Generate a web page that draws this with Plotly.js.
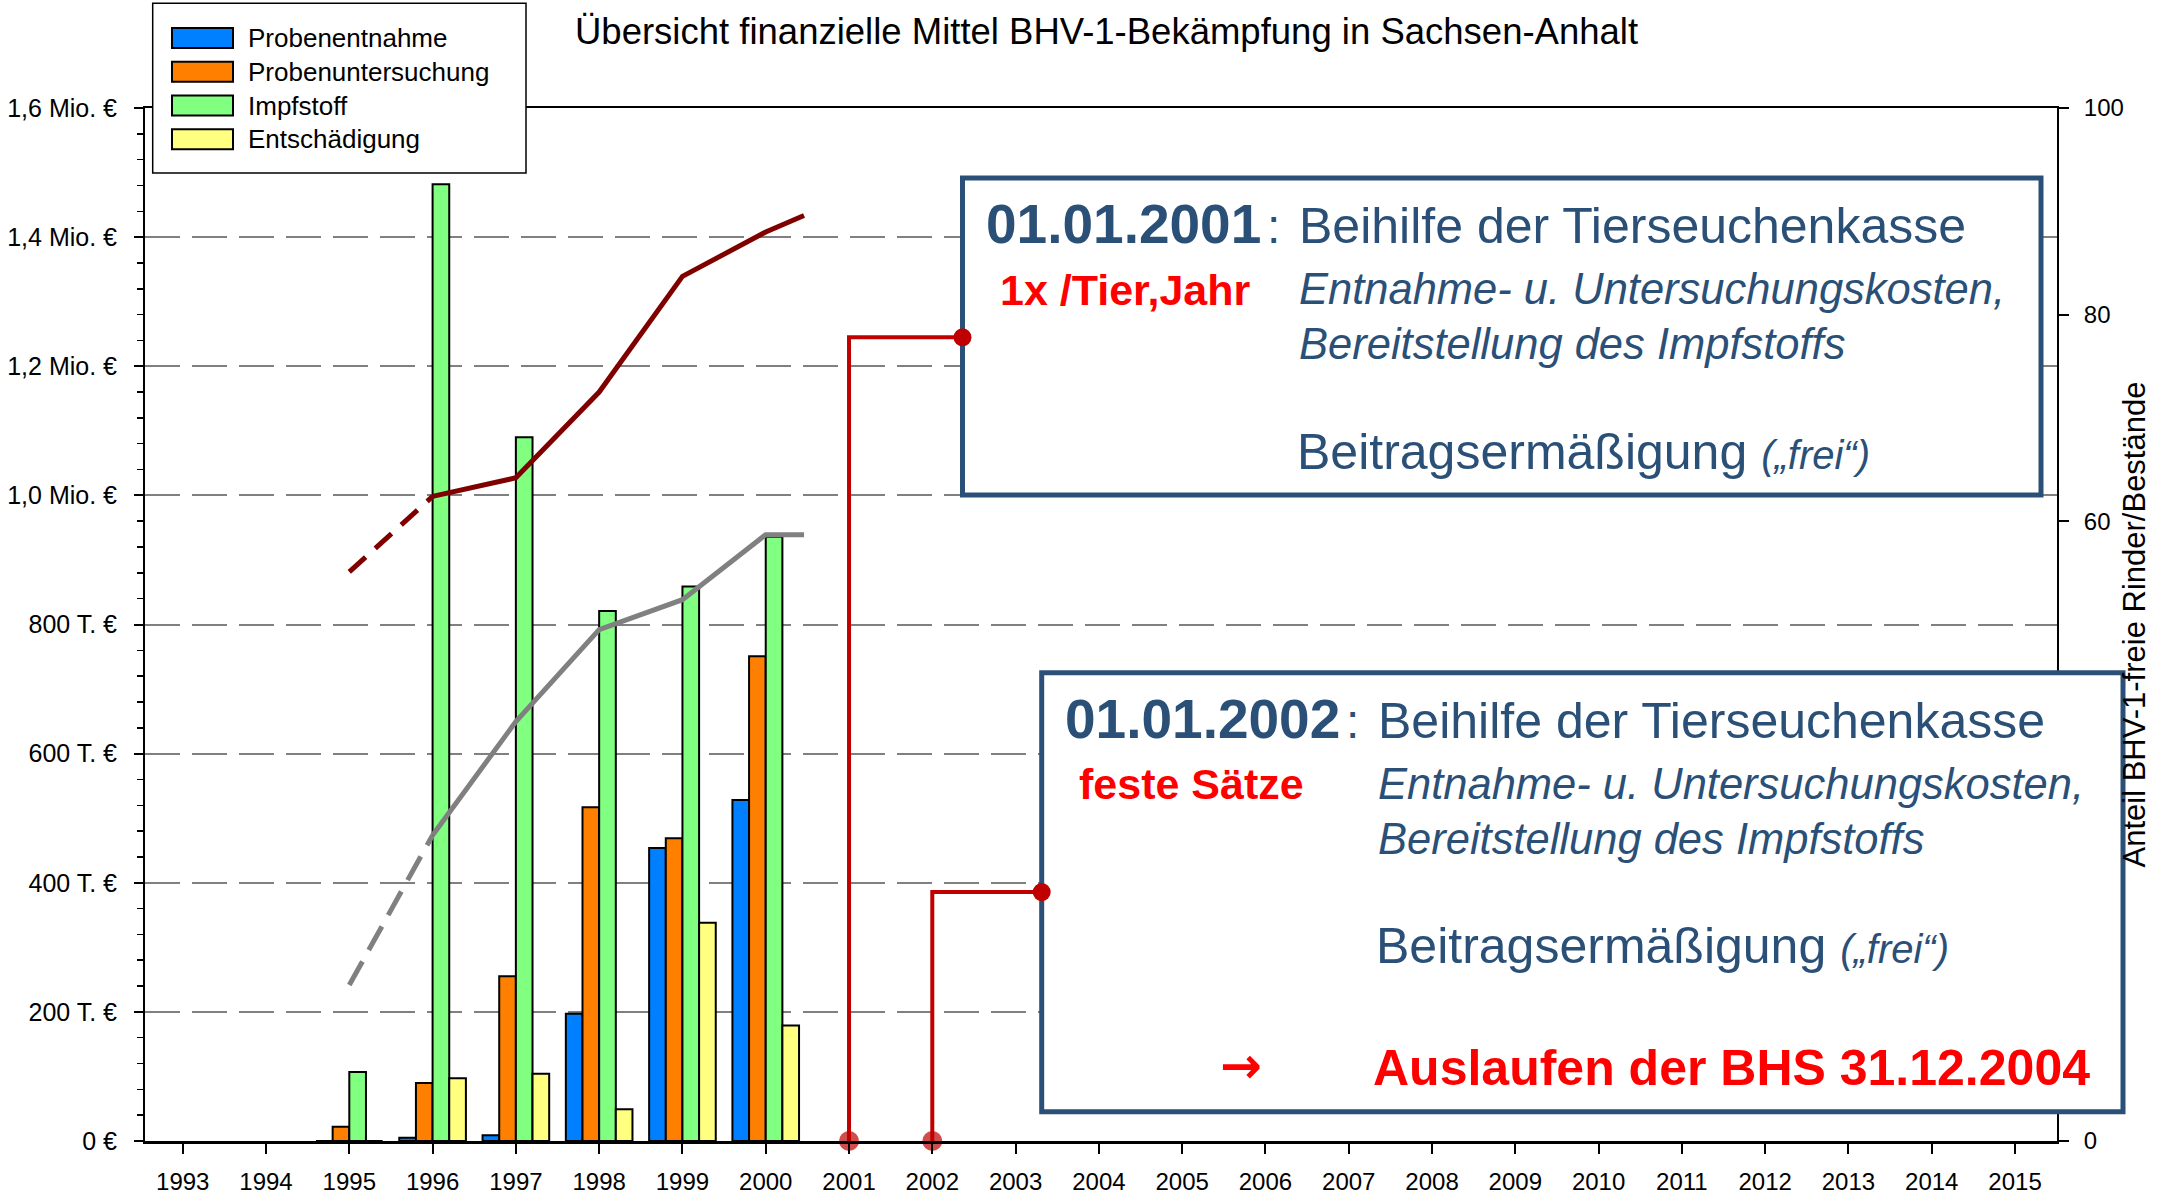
<!DOCTYPE html>
<html>
<head>
<meta charset="utf-8">
<script src="https://cdn.plot.ly/plotly-3.0.1.min.js"></script>
<style>
html,body{margin:0;padding:0;background:#fff;}
#chart{width:2168px;height:1200px;}
</style>
</head>
<body>
<div id="chart"></div>
<script>
// ---------- data (values in thousand €) ----------
const years = [1995, 1996, 1997, 1998, 1999, 2000];
const seriesNames = ['Probenentnahme', 'Probenuntersuchung', 'Impfstoff', 'Entschädigung'];
const probenentnahme = [0, 5, 9, 197, 454, 528];
const probenuntersuchung = [22, 90, 255, 517, 469, 751];
const impfstoff = [107, 1482, 1090, 821, 859, 936];
const entschaedigung = [0, 97, 104, 49, 338, 179];

// share of BHV-1-free cattle / herds (%), right axis
const shareYears = [1995, 1996, 1997, 1998, 1999, 2000, 2000.46];
const shareRinder = [55.1, 62.4, 64.2, 72.5, 83.7, 88.0, 89.6];
const shareBestaende = [15.1, 29.6, 40.6, 49.5, 52.4, 58.7, 58.7];

// milestones (connector lines to the text boxes), level on right axis
const milestoneYears = [2001, 2002];
const milestoneLevels = [77.8, 24.1];

// ticks
const xTickYears = [1993,1994,1995,1996,1997,1998,1999,2000,2001,2002,2003,2004,2005,2006,2007,2008,2009,2010,2011,2012,2013,2014,2015];
const yTickValues = [0, 200, 400, 600, 800, 1000, 1200, 1400, 1600];
const yTickLabels = ['0 €', '200 T. €', '400 T. €', '600 T. €', '800 T. €', '1,0 Mio. €', '1,2 Mio. €', '1,4 Mio. €', '1,6 Mio. €'];
const y2TickValues = [0, 20, 40, 60, 80, 100];

const titleText = 'Übersicht finanzielle Mittel BHV-1-Bekämpfung in Sachsen-Anhalt';
const y2TitleText = 'Anteil BHV-1-freie Rinder/Bestände';

// ---------- layout geometry ----------
const FONT = 'Liberation Sans, Arial, Helvetica, sans-serif';
const L = 145, R = 2057, T = 108, B = 1141;
const W = R - L, H = B - T;
const xRange = [1992.547, 2015.504];
const px = x => (x - L) / W;
const py = y => (B - y) / H;
const pxToYear = x => xRange[0] + (x - L) / W * (xRange[1] - xRange[0]);

const barColors = ['#0080FF', '#FF8000', '#80FF80', '#FFFF80'];
const barSeries = [probenentnahme, probenuntersuchung, impfstoff, entschaedigung];
const BLUE = '#2B5078';
const RED = '#FF0000';
const DARKRED = '#C00000';

const traces = [];
barSeries.forEach((vals, i) => {
  traces.push({
    type: 'bar', x: years, y: vals, name: seriesNames[i],
    marker: {color: barColors[i], line: {color: '#000', width: 2}},
    showlegend: false, hoverinfo: 'x+y+name'
  });
});

function addShareLine(vals, color, dash) {
  traces.push({
    type: 'scatter', mode: 'lines', x: shareYears.slice(0, 2), y: vals.slice(0, 2),
    yaxis: 'y2', line: {color: color, width: 5, dash: dash}, showlegend: false, hoverinfo: 'skip'
  });
  traces.push({
    type: 'scatter', mode: 'lines', x: shareYears.slice(1), y: vals.slice(1),
    yaxis: 'y2', line: {color: color, width: 5}, showlegend: false, hoverinfo: 'skip'
  });
}
addShareLine(shareRinder, '#800000', '22px,13px');
addShareLine(shareBestaende, '#808080', '27px,13px');

// text boxes (pixel geometry)
const boxes = [
  {left: 962.5, top: 178, right: 2041, bottom: 495, date: '01.01.2001', tag: '1x /Tier,Jahr', extra: false},
  {left: 1041.7, top: 672.7, right: 2123, bottom: 1111.7, date: '01.01.2002', tag: 'feste Sätze', extra: true}
];

milestoneYears.forEach((yr, i) => {
  const anchorYear = pxToYear(boxes[i].left);
  traces.push({
    type: 'scatter', mode: 'lines+markers', x: [yr, yr, anchorYear], y: [0, milestoneLevels[i], milestoneLevels[i]],
    yaxis: 'y2', cliponaxis: false, line: {color: DARKRED, width: 4},
    marker: {color: DARKRED, size: [20, 0, 0], line: {width: 0}}, showlegend: false, hoverinfo: 'skip'
  });
});

const shapes = [];
const annotations = [];

function addText(x, baseline, text, size, color, family) {
  annotations.push({
    xref: 'paper', yref: 'paper', x: px(x), y: py(baseline - 0.3465 * size),
    xanchor: 'left', yanchor: 'middle', text: text, showarrow: false,
    borderpad: 0, borderwidth: 0,
    font: {family: family || FONT, size: size, color: color}
  });
}

// legend (custom drawn)
shapes.push({type: 'rect', xref: 'paper', yref: 'paper', x0: px(152.7), x1: px(526), y0: py(173), y1: py(3.3),
  fillcolor: '#fff', line: {color: '#000', width: 1.5}, layer: 'above'});
const legendRows = [38, 71.8, 105.5, 139.2];
seriesNames.forEach((nm, i) => {
  shapes.push({type: 'rect', xref: 'paper', yref: 'paper', x0: px(172), x1: px(233),
    y0: py(legendRows[i] + 10), y1: py(legendRows[i] - 10),
    fillcolor: barColors[i], line: {color: '#000', width: 2}, layer: 'above'});
  addText(248, legendRows[i] + 9.3, nm, 26, '#000');
});

// boxes
boxes.forEach((b, i) => {
  shapes.push({type: 'rect', xref: 'paper', yref: 'paper', x0: px(b.left), x1: px(b.right), y0: py(b.bottom), y1: py(b.top),
    fillcolor: '#fff', line: {color: BLUE, width: 5}, layer: 'above'});
  const ox = b.left, oy = b.top;
  addText(ox + 23, oy + 65.5, '<b>' + b.date + '</b>', 55, BLUE);
  addText(ox + 304, oy + 65.5, ':', 48, BLUE);
  addText(ox + 336, oy + 65.5, 'Beihilfe der Tierseuchenkasse', 50, BLUE);
  addText(ox + 37, oy + 126.5, '<b>' + b.tag + '</b>', 43, RED);
  addText(ox + 336, oy + 126.5, '<i>Entnahme- u. Untersuchungskosten,</i>', 43.5, BLUE);
  addText(ox + 336, oy + 181.5, '<i>Bereitstellung des Impfstoffs</i>', 43.5, BLUE);
  addText(ox + 334, oy + 291, 'Beitragsermäßigung <i><span style="font-size:40px">(„frei“)</span></i>', 50, BLUE);
  if (b.extra) {
    addText(ox + 178, oy + 411, '<b>→</b>', 50, RED, 'DejaVu Sans, ' + FONT);
    addText(ox + 331, oy + 412.3, '<b>Auslaufen der BHS 31.12.2004</b>', 50, RED);
  }
});

// anchor dots on the box border
milestoneYears.forEach((yr, i) => {
  shapes.push({type: 'circle', xref: 'x', yref: 'y2', xsizemode: 'pixel', ysizemode: 'pixel',
    xanchor: pxToYear(boxes[i].left), yanchor: milestoneLevels[i], x0: -9, x1: 9, y0: -9, y1: 9,
    fillcolor: DARKRED, line: {width: 0}, layer: 'above'});
});

const layout = {
  width: 2168, height: 1200,
  margin: {l: L, r: 2168 - R, t: T, b: 1200 - B, pad: 0},
  paper_bgcolor: '#fff', plot_bgcolor: '#fff',
  font: {family: FONT, color: '#000'},
  showlegend: false,
  barmode: 'group', bargap: 0.2, bargroupgap: 0,
  title: {text: titleText, font: {family: FONT, size: 36.5, color: '#000'},
    xref: 'container', yref: 'container', x: 575 / 2168, xanchor: 'left', y: 1 - 31 / 1200, yanchor: 'middle'},
  xaxis: {
    range: xRange, tickmode: 'array', tickvals: xTickYears, ticktext: xTickYears.map(String),
    ticks: 'outside', ticklen: 10, tickwidth: 2, tickcolor: '#000',
    showline: true, linecolor: '#000', linewidth: 2.5, mirror: true,
    showgrid: false, zeroline: false, tickfont: {family: FONT, size: 24, color: '#000'},
    ticklabelstandoff: 8, fixedrange: true
  },
  yaxis: {
    range: [0, 1600], tickmode: 'array', tickvals: yTickValues, ticktext: yTickLabels,
    ticks: 'outside', ticklen: 9, tickwidth: 2, tickcolor: '#000',
    showline: true, linecolor: '#000', linewidth: 2,
    showgrid: true, gridcolor: '#808080', gridwidth: 2, griddash: '35px,12px',
    zeroline: false, tickfont: {family: FONT, size: 25, color: '#000'},
    ticklabelstandoff: 12,
    minor: {dtick: 40, tick0: 0, ticks: 'outside', ticklen: 6, tickwidth: 1.5, tickcolor: '#000', showgrid: false},
    fixedrange: true
  },
  yaxis2: {
    overlaying: 'y', side: 'right', range: [0, 100], tickmode: 'array', tickvals: y2TickValues,
    ticks: 'outside', ticklen: 10, tickwidth: 2, tickcolor: '#000',
    showline: true, linecolor: '#000', linewidth: 2, showgrid: false, zeroline: false,
    tickfont: {family: FONT, size: 24, color: '#000'}, ticklabelstandoff: 10,
    title: {text: y2TitleText, font: {family: FONT, size: 31, color: '#000'}, standoff: 0},
    fixedrange: true
  },
  shapes: shapes,
  annotations: annotations
};

Plotly.newPlot('chart', traces, layout, {displayModeBar: false, staticPlot: true});
</script>
</body>
</html>
